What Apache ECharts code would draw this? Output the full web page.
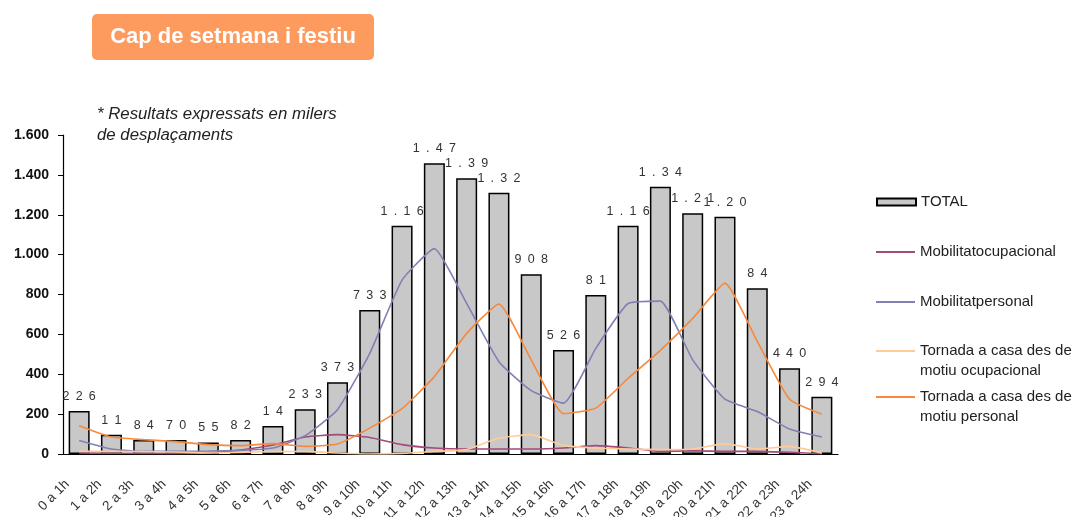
<!DOCTYPE html>
<html>
<head>
<meta charset="utf-8">
<script src="https://cdn.jsdelivr.net/npm/echarts@6/dist/echarts.min.js"></script>
<style>
html,body{margin:0;padding:0;background:#fff;}
#c{width:1080px;height:517px;}
</style>
</head>
<body>
<div id="c"></div>
<script>
const categories = ['0 a 1h','1 a 2h','2 a 3h','3 a 4h','4 a 5h','5 a 6h','6 a 7h','7 a 8h','8 a 9h','9 a 10h','10 a 11h','11 a 12h','12 a 13h','13 a 14h','14 a 15h','15 a 16h','16 a 17h','17 a 18h','18 a 19h','19 a 20h','20 a 21h','21 a 22h','22 a 23h','23 a 24h'];
const total = [216, 96, 70, 70, 58, 70, 140, 225, 360, 722, 1145, 1458, 1383, 1310, 901, 522, 797, 1145, 1340, 1207, 1190, 831, 430, 287];
const barLabels = ['226','11','84','70','55','82','14','233','373','733','1.16','1.47','1.39','1.32','908','526','81','1.16','1.34','1.21','1.20','84','440','294'];
const mobOcup = [5, 4, 3, 3, 5, 20, 45, 85, 97, 83, 47, 30, 25, 25, 25, 30, 42, 30, 13, 16, 13, 13, 8, 1];
const mobPers = [68, 25, 13, 13, 15, 18, 30, 92, 222, 505, 872, 1030, 755, 463, 318, 255, 530, 755, 767, 472, 275, 213, 125, 85];
const tornOcup = [13, 13, 12, 10, 5, 8, 12, 13, 5, 0, 3, 13, 22, 80, 97, 42, 30, 25, 22, 25, 52, 25, 38, 5];
const tornPers = [142, 85, 72, 62, 47, 42, 52, 38, 50, 130, 228, 388, 605, 752, 472, 202, 230, 380, 520, 680, 857, 565, 275, 200];
const yTicks = {min: 0, max: 1600, interval: 200};

const names = ['TOTAL', 'Mobilitatocupacional', 'Mobilitatpersonal', 'Tornada a casa des de\nmotiu ocupacional', 'Tornada a casa des de\nmotiu personal'];
const colors = ['#c8c8c8', '#a34a78', '#8080b4', '#ffcc99', '#f7883c'];

const font = 'Liberation Sans, Arial, sans-serif';
const chart = echarts.init(document.getElementById('c'));

const legendText = {fontFamily: font, fontSize: 15, color: '#222', lineHeight: 20};
function legendFor(name, top, extra) {
  return Object.assign({
    data: [name], left: 876, top: top, orient: 'vertical', padding: 0,
    itemWidth: 39, itemHeight: 2, itemGap: 0, icon: 'rect',
    textStyle: legendText
  }, extra || {});
}

const lineSeries = (name, data, color) => ({
  name: name, type: 'line', data: data, symbol: 'none', smooth: 0.15,
  lineStyle: {color: color, width: 1.6}, itemStyle: {color: color}, z: 3
});

chart.setOption({
  animation: false,
  backgroundColor: '#fff',
  grid: {left: 63, right: 242, top: 135, bottom: 63, containLabel: false, outerBoundsMode: 'none'},
  legend: [
    legendFor(names[0], 192, {itemHeight: 7}),
    legendFor(names[1], 242),
    legendFor(names[2], 292),
    legendFor(names[3], 321, {formatter: n => '\u00a0\n' + n}),
    legendFor(names[4], 367, {formatter: n => '\u00a0\n' + n})
  ],
  graphic: [
    {type: 'rect', left: 92, top: 14, shape: {width: 282, height: 46, r: 5}, style: {fill: '#fd9b5f'}},
    {type: 'text', style: {text: 'Cap de setmana i festiu', x: 233, y: 37, align: 'center', verticalAlign: 'middle', fill: '#fff', font: 'bold 22px Liberation Sans, Arial, sans-serif'}},
    {type: 'text', style: {text: '* Resultats expressats en milers\nde desplaçaments', x: 97, y: 104, fill: '#222', font: 'italic 16.8px Liberation Sans, Arial, sans-serif', lineHeight: 21}}
  ],
  xAxis: {
    type: 'category', data: categories,
    axisLine: {lineStyle: {color: '#000', width: 1.2}},
    axisTick: {alignWithLabel: false, length: 4, lineStyle: {color: '#000'}},
    axisLabel: {rotate: 45, interval: 0, margin: 16, padding: [0, 17, 0, 0], fontFamily: font, fontSize: 13.5, color: '#333'}
  },
  yAxis: {
    type: 'value', min: yTicks.min, max: yTicks.max, interval: yTicks.interval,
    axisLine: {show: true, lineStyle: {color: '#000', width: 1.2}},
    axisTick: {show: true, length: 5, lineStyle: {color: '#000'}},
    splitLine: {show: false},
    axisLabel: {margin: 14, fontFamily: font, fontSize: 14, fontWeight: 'bold', color: '#111',
      formatter: v => String(v).replace(/\B(?=(\d{3})+(?!\d))/g, '.')}
  },
  series: [
    {name: names[0], type: 'bar', data: total, barWidth: 21,
     itemStyle: {color: colors[0], borderColor: '#000', borderWidth: 1.5},
     label: {show: true, position: 'top', distance: 8, fontFamily: font, fontSize: 12.5, color: '#333',
       formatter: p => barLabels[p.dataIndex].split('').join('\u2002')}, z: 2},
    lineSeries(names[1], mobOcup, colors[1]),
    lineSeries(names[2], mobPers, colors[2]),
    lineSeries(names[3], tornOcup, colors[3]),
    lineSeries(names[4], tornPers, colors[4])
  ]
});
</script>
</body>
</html>
